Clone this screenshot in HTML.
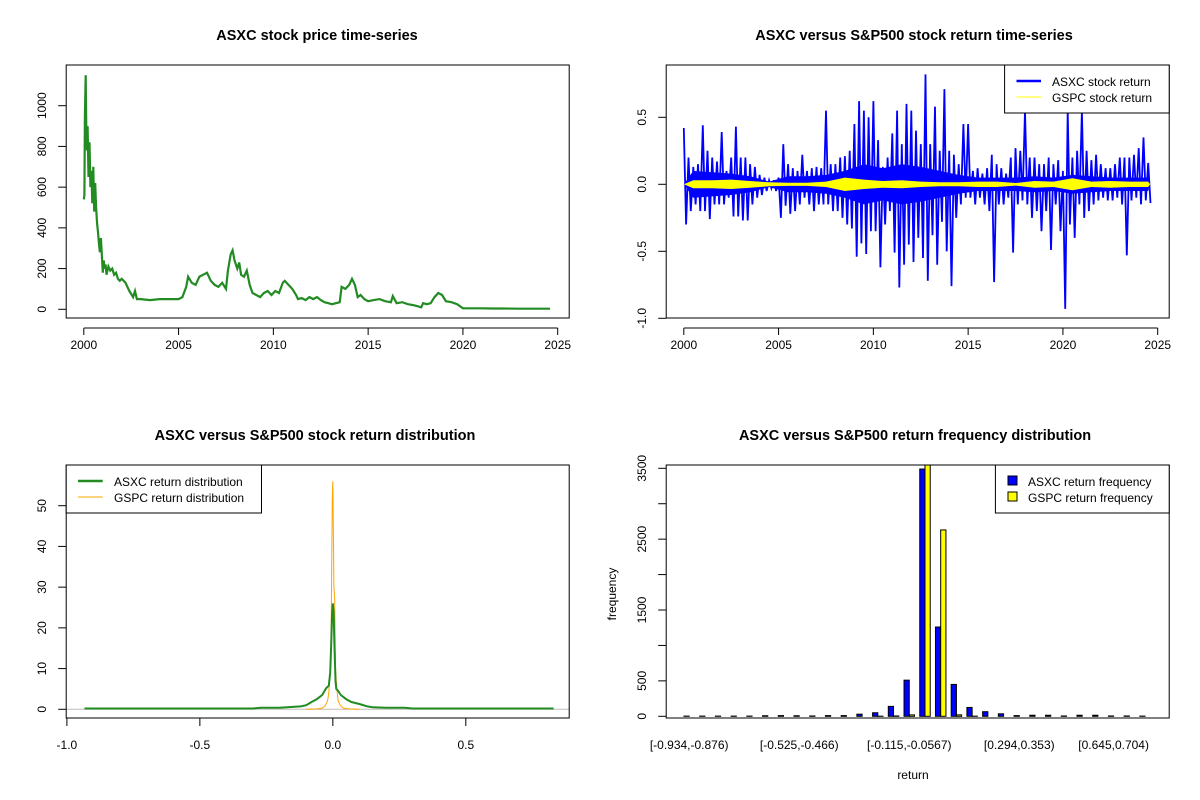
<!DOCTYPE html>
<html><head><meta charset="utf-8"><style>
html,body{margin:0;padding:0;background:#fff;}
svg{display:block;font-family:"Liberation Sans",Arial,sans-serif;}
</style></head><body>
<svg id="chart" width="1200" height="800" viewBox="0 0 1200 800"></svg>
<script>
// ---------- DATA ----------
const priceDates=[2000.0,2000.03,2000.06,2000.1,2000.13,2000.17,2000.2,2000.25,2000.3,2000.35,2000.4,2000.45,2000.5,2000.55,2000.6,2000.65,2000.7,2000.75,2000.8,2000.85,2000.9,2000.95,2001.0,2001.05,2001.1,2001.15,2001.2,2001.3,2001.4,2001.5,2001.6,2001.7,2001.8,2001.9,2002.0,2002.2,2002.4,2002.6,2002.7,2002.8,2003.0,2003.5,2004.0,2004.5,2005.0,2005.2,2005.4,2005.5,2005.7,2005.9,2006.1,2006.3,2006.5,2006.7,2006.9,2007.1,2007.3,2007.5,2007.6,2007.75,2007.85,2007.95,2008.1,2008.2,2008.3,2008.45,2008.6,2008.75,2008.9,2009.1,2009.3,2009.5,2009.7,2009.9,2010.1,2010.3,2010.5,2010.6,2010.8,2011.0,2011.2,2011.3,2011.5,2011.7,2011.9,2012.1,2012.3,2012.5,2012.7,2012.9,2013.1,2013.3,2013.5,2013.6,2013.8,2014.0,2014.15,2014.3,2014.45,2014.6,2014.8,2015.0,2015.3,2015.6,2015.9,2016.2,2016.3,2016.5,2016.8,2017.1,2017.4,2017.6,2017.8,2017.9,2018.1,2018.3,2018.5,2018.7,2018.9,2019.1,2019.4,2019.7,2020.0,2020.5,2021.0,2021.5,2022.0,2023.0,2024.0,2024.6];
const priceValues=[540,560,950,1150,880,780,900,650,820,600,680,520,700,480,620,500,420,380,320,280,350,270,180,240,200,220,170,210,190,200,170,180,150,140,150,130,90,60,90,50,50,45,50,50,50,60,110,160,130,120,160,170,180,140,120,110,130,100,190,270,290,240,200,230,170,160,190,120,80,70,60,80,90,70,90,80,130,140,120,100,70,50,55,45,60,50,60,45,35,30,25,30,35,110,100,120,150,120,60,70,50,40,45,50,40,35,65,30,35,25,20,15,10,30,25,30,60,80,70,40,35,25,5,5,5,4,4,3,3,3];

const retYears=[2000,2001,2002,2003,2004,2005,2006,2007,2008,2009,2010,2011,2012,2013,2014,2015,2016,2017,2018,2019,2020,2021,2022,2023,2024];
const asxcUp=[0.42,0.2,0.13,0.15, 0.44,0.25,0.2,0.17, 0.39,0.1,0.2,0.43, 0.2,0.2,0.15,0.13, 0.07,0.05,0.03,0.03, 0.05,0.3,0.15,0.12, 0.1,0.22,0.1,0.12, 0.13,0.12,0.55,0.15, 0.15,0.2,0.21,0.25, 0.45,0.62,0.55,0.5, 0.62,0.33,0.13,0.2, 0.38,0.55,0.3,0.6, 0.55,0.4,0.3,0.82, 0.3,0.58,0.25,0.71, 0.25,0.22,0.15,0.45, 0.45,0.1,0.12,0.08, 0.12,0.22,0.15,0.12, 0.08,0.2,0.27,0.25, 0.55,0.2,0.2,0.15, 0.15,0.2,0.15,0.18, 0.1,0.55,0.2,0.25, 0.55,0.25,0.18,0.22, 0.15,0.12,0.12,0.15, 0.2,0.2,0.2,0.22, 0.27,0.35,0.16];
const asxcDown=[-0.3,-0.2,-0.15,-0.2, -0.2,-0.26,-0.15,-0.15, -0.15,-0.1,-0.24,-0.24, -0.27,-0.27,-0.15,-0.1, -0.08,-0.05,-0.03,-0.05, -0.25,-0.16,-0.22,-0.2, -0.15,-0.1,-0.15,-0.2, -0.15,-0.15,-0.15,-0.2, -0.2,-0.25,-0.3,-0.33, -0.54,-0.44,-0.52,-0.35, -0.35,-0.62,-0.3,-0.2, -0.51,-0.77,-0.6,-0.45, -0.58,-0.4,-0.55,-0.72, -0.38,-0.6,-0.28,-0.5, -0.76,-0.25,-0.15,-0.1, -0.1,-0.15,-0.1,-0.15, -0.2,-0.73,-0.15,-0.15, -0.1,-0.51,-0.15,-0.12, -0.15,-0.25,-0.2,-0.35, -0.2,-0.49,-0.15,-0.35, -0.93,-0.3,-0.4,-0.15, -0.25,-0.2,-0.15,-0.12, -0.1,-0.12,-0.12,-0.1, -0.15,-0.53,-0.12,-0.1, -0.15,-0.12,-0.14];
const asxcBand=[0.1,0.09,0.08,0.06,0.02,0.06,0.06,0.07,0.1,0.15,0.12,0.15,0.13,0.1,0.07,0.05,0.05,0.05,0.06,0.05,0.07,0.06,0.05,0.05,0.05];
const gspcBand=[0.03,0.03,0.035,0.025,0.015,0.012,0.012,0.02,0.05,0.035,0.025,0.03,0.02,0.015,0.015,0.02,0.02,0.01,0.025,0.02,0.045,0.02,0.025,0.02,0.02];

const densX=[-0.934,-0.5,-0.3,-0.27,-0.2,-0.15,-0.12,-0.1,-0.08,-0.06,-0.04,-0.025,-0.015,-0.01,-0.006,-0.003,0,0.003,0.006,0.01,0.013,0.016,0.02,0.03,0.05,0.07,0.1,0.13,0.15,0.2,0.27,0.3,0.5,0.83];
const asxcDens=[0.2,0.2,0.2,0.4,0.4,0.6,0.7,1.0,1.8,2.5,3.5,5.2,5.8,9,16,23,26,24,16,7,5,4.8,4.5,3.5,2.5,1.8,1.3,0.7,0.5,0.4,0.4,0.2,0.2,0.2];
const gspcX=[-0.1,-0.06,-0.04,-0.03,-0.02,-0.015,-0.01,-0.007,-0.004,-0.002,0,0.002,0.004,0.007,0.01,0.015,0.02,0.03,0.04,0.06,0.1];
const gspcDens=[0,0.1,0.3,0.8,2,4,10,15,38,52,56,43,30,27,10,5,2,0.8,0.3,0.1,0];

const histBreaks=[-0.934,-0.876,-0.817,-0.759,-0.7,-0.642,-0.583,-0.525,-0.466,-0.408,-0.349,-0.291,-0.232,-0.174,-0.115,-0.0567,0.00176,0.0602,0.119,0.177,0.236,0.294,0.353,0.411,0.47,0.528,0.587,0.645,0.704,0.762,0.821];
const asxcFreq=[3,3,3,3,3,8,10,8,5,10,10,30,50,140,510,3490,1260,450,125,65,35,10,15,15,5,15,15,5,5,3];
const gspcFreq=[0,0,0,0,0,0,0,0,0,0,0,0,2,5,20,3560,2630,20,2,0,0,0,0,0,0,0,0,0,0,0];
const shownLabels=[0,7,14,21,27];
const histTicks=[0,500,1000,1500,2000,2500,3000,3500];
const histTickLabels=["0","500","","1500","","2500","","3500"];

// ---------- HELPERS ----------
const svg=document.getElementById('chart');
const NS='http://www.w3.org/2000/svg';
function mk(tag,attrs,parent){const e=document.createElementNS(NS,tag);for(const k in attrs)e.setAttribute(k,attrs[k]);(parent||svg).appendChild(e);return e;}
function txt(s,x,y,opt,parent){const e=mk('text',Object.assign({x:x,y:y,'font-size':12,'text-anchor':'middle',fill:'#000'},opt||{}),parent);e.textContent=s;return e;}
function lin(d0,d1,r0,r1){return v=>r0+(v-d0)*(r1-r0)/(d1-d0);}
function clip(id,x,y,w,h){const d=mk('defs',{});const c=mk('clipPath',{id:id},d);mk('rect',{x:x,y:y,width:w,height:h},c);}
const LX=66.2, RX=666.2, BW=503;

// ---------- PANEL 1: price ----------
(function(){
 const g=mk('g',{});
 
 
 const xs=lin(2000,2025,83.8,557.7), ys=lin(0,1000,309.3,105.7);
 const t=txt('ASXC stock price time-series',317,40,{'font-size':14.5,'font-weight':'bold'},g);
 
 clip('c1',LX,65,BW,253);
 let d=priceDates.map((v,i)=>(i?'L':'M')+xs(v).toFixed(1)+','+ys(priceValues[i]).toFixed(1)).join('');
 const p=mk('path',{d:d,fill:'none',stroke:'#228B22','stroke-width':2.2,'clip-path':'url(#c1)'},g);
 
 const b=mk('rect',{x:LX,y:65,width:BW,height:253,fill:'none',stroke:'#000'},g);
 
 mk('line',{x1:xs(2000),x2:xs(2025),y1:328,y2:328,stroke:'#000'},g);
 [2000,2005,2010,2015,2020,2025].forEach(v=>{mk('line',{x1:xs(v),x2:xs(v),y1:328,y2:335,stroke:'#000'},g);txt(v,xs(v),349,{},g);});
 [0,200,400,600,800,1000].forEach(v=>{mk('line',{x1:LX-8,x2:LX,y1:ys(v),y2:ys(v),stroke:'#000'},g);txt(v,0,0,{transform:`translate(46,${ys(v)}) rotate(-90)`},g);});
})();

// ---------- PANEL 2: returns ----------
(function(){
 const g=mk('g',{});
 
 
 const xs=lin(2000,2025,683.8,1157.7), ys=lin(0,0.5,184.3,117.3);
 const t=txt('ASXC versus S&P500 stock return time-series',914,40,{'font-size':14.5,'font-weight':'bold'},g);
 
 clip('c2',RX,65,BW,253);
 let top=retYears.map((y,i)=>xs(y+0.5).toFixed(1)+','+ys(asxcBand[i]).toFixed(1));
 let bot=retYears.map((y,i)=>xs(y+0.5).toFixed(1)+','+ys(-asxcBand[i]).toFixed(1)).reverse();
 const bb=mk('polygon',{points:[xs(2000)+','+ys(0)].concat(top,[xs(2024.6)+','+ys(0)],bot).join(' '),fill:'#0000ff','clip-path':'url(#c2)'},g);
 
 let d='';
 asxcUp.forEach((u,i)=>{const x0=xs(2000+i*0.25);const x1=xs(2000+i*0.25+0.12);
   d+=(i?'L':'M')+x0.toFixed(1)+','+ys(u).toFixed(1)+'L'+x1.toFixed(1)+','+ys(asxcDown[i]).toFixed(1);});
 const pl=mk('path',{d:d,fill:'none',stroke:'#0000ff','stroke-width':1.8,'clip-path':'url(#c2)'},g);
 
 top=retYears.map((y,i)=>xs(y+0.5).toFixed(1)+','+ys(gspcBand[i]).toFixed(1));
 bot=retYears.map((y,i)=>xs(y+0.5).toFixed(1)+','+ys(-gspcBand[i]).toFixed(1)).reverse();
 const yb=mk('polygon',{points:[xs(2000)+','+ys(0)].concat(top,[xs(2024.6)+','+ys(0)],bot).join(' '),fill:'#ffff00','clip-path':'url(#c2)'},g);
 
 const b=mk('rect',{x:RX,y:65,width:BW,height:253,fill:'none',stroke:'#000'},g);
 
 mk('line',{x1:xs(2000),x2:xs(2025),y1:328,y2:328,stroke:'#000'},g);
 [2000,2005,2010,2015,2020,2025].forEach(v=>{mk('line',{x1:xs(v),x2:xs(v),y1:328,y2:335,stroke:'#000'},g);txt(v,xs(v),349,{},g);});
 [-1.0,-0.5,0.0,0.5].forEach(v=>{mk('line',{x1:RX-8,x2:RX,y1:ys(v),y2:ys(v),stroke:'#000'},g);txt(v.toFixed(1),0,0,{transform:`translate(646,${ys(v)}) rotate(-90)`},g);});
 const lg=mk('g',{},g);
 mk('rect',{x:1004.6,y:65,width:164.6,height:48,fill:'#fff',stroke:'#000'},lg);
 mk('line',{x1:1016.5,x2:1041,y1:81,y2:81,stroke:'#0000ff','stroke-width':2.5},lg);
 mk('line',{x1:1016.5,x2:1041,y1:97,y2:97,stroke:'#ffff00','stroke-width':1},lg);
 txt('ASXC stock return',1052,86,{'text-anchor':'start'},lg);
 txt('GSPC stock return',1052,102,{'text-anchor':'start'},lg);
})();

// ---------- PANEL 3: density ----------
(function(){
 const g=mk('g',{});
 
 
 const xs=lin(-1,0.5,66.9,465.8), ys=lin(0,50,709.3,505.7);
 const t=txt('ASXC versus S&P500 stock return distribution',315,440,{'font-size':14.5,'font-weight':'bold'},g);
 
 mk('line',{x1:LX,x2:LX+BW,y1:ys(0),y2:ys(0),stroke:'#bebebe'},g);
 let d=gspcX.map((v,i)=>(i?'L':'M')+xs(v).toFixed(1)+','+ys(gspcDens[i]).toFixed(1)).join('');
 const o=mk('path',{d:d,fill:'none',stroke:'#FFA500','stroke-width':1},g);
 
 d=densX.map((v,i)=>(i?'L':'M')+xs(v).toFixed(1)+','+ys(asxcDens[i]).toFixed(1)).join('');
 const gr=mk('path',{d:d,fill:'none',stroke:'#228B22','stroke-width':2},g);
 
 const b=mk('rect',{x:LX,y:465,width:BW,height:253,fill:'none',stroke:'#000'},g);
 
 [-1.0,-0.5,0.0,0.5].forEach(v=>{mk('line',{x1:xs(v),x2:xs(v),y1:718,y2:726,stroke:'#000'},g);txt(v.toFixed(1),xs(v),749,{},g);});
 [0,10,20,30,40,50].forEach(v=>{mk('line',{x1:LX-8,x2:LX,y1:ys(v),y2:ys(v),stroke:'#000'},g);txt(v,0,0,{transform:`translate(46,${ys(v)}) rotate(-90)`},g);});
 const lg=mk('g',{},g);
 mk('rect',{x:LX,y:465,width:195.3,height:48,fill:'#fff',stroke:'#000'},lg);
 mk('line',{x1:78,x2:102.7,y1:481,y2:481,stroke:'#228B22','stroke-width':2.5},lg);
 mk('line',{x1:78,x2:102.7,y1:497,y2:497,stroke:'#FFA500','stroke-width':1},lg);
 txt('ASXC return distribution',114,486,{'text-anchor':'start'},lg);
 txt('GSPC return distribution',114,502,{'text-anchor':'start'},lg);
})();

// ---------- PANEL 4: histogram ----------
(function(){
 const g=mk('g',{});
 
 
 const w=5.24, x0=678.7;
 const ys=lin(0,3500,716.3,468.3);
 const t=txt('ASXC versus S&P500 return frequency distribution',915,440,{'font-size':14.5,'font-weight':'bold'},g);
 
 clip('c4',RX,465,BW,253);
 asxcFreq.forEach((v,i)=>{
   const xa=x0+(3*i+1)*w;
   const r=mk('rect',{x:xa,y:ys(v),width:w,height:ys(0)-ys(v),fill:'#0000ff',stroke:'#000','stroke-width':1,'clip-path':'url(#c4)'},g);
   
   
   const r2=mk('rect',{x:xa+w,y:ys(gspcFreq[i]),width:w,height:ys(0)-ys(gspcFreq[i]),fill:'#ffff00',stroke:'#000','stroke-width':1,'clip-path':'url(#c4)'},g);
   
   
 });
 shownLabels.forEach(i=>{
   const lab='['+histBreaks[i]+','+histBreaks[i+1]+')';
   txt(lab,x0+(3*i+2)*w,749,{},g);
 });
 const b=mk('rect',{x:RX,y:465,width:BW,height:253,fill:'none',stroke:'#000'},g);
 
 histTicks.forEach((v,i)=>{mk('line',{x1:RX-8,x2:RX,y1:ys(v),y2:ys(v),stroke:'#000'},g);if(histTickLabels[i])txt(histTickLabels[i],0,0,{transform:`translate(646,${ys(v)}) rotate(-90)`},g);});
 const yl=txt('frequency',0,0,{transform:'translate(616,594) rotate(-90)'},g);
 
 const xl=txt('return',913,779,{},g);
 
 const lg=mk('g',{},g);
 mk('rect',{x:995.4,y:465,width:173.8,height:48,fill:'#fff',stroke:'#000'},lg);
 mk('rect',{x:1008,y:476,width:9,height:9,fill:'#0000ff',stroke:'#000'},lg);
 mk('rect',{x:1008,y:492,width:9,height:9,fill:'#ffff00',stroke:'#000'},lg);
 txt('ASXC return frequency',1028,486,{'text-anchor':'start'},lg);
 txt('GSPC return frequency',1028,502,{'text-anchor':'start'},lg);
})();
</script>
</body></html>
